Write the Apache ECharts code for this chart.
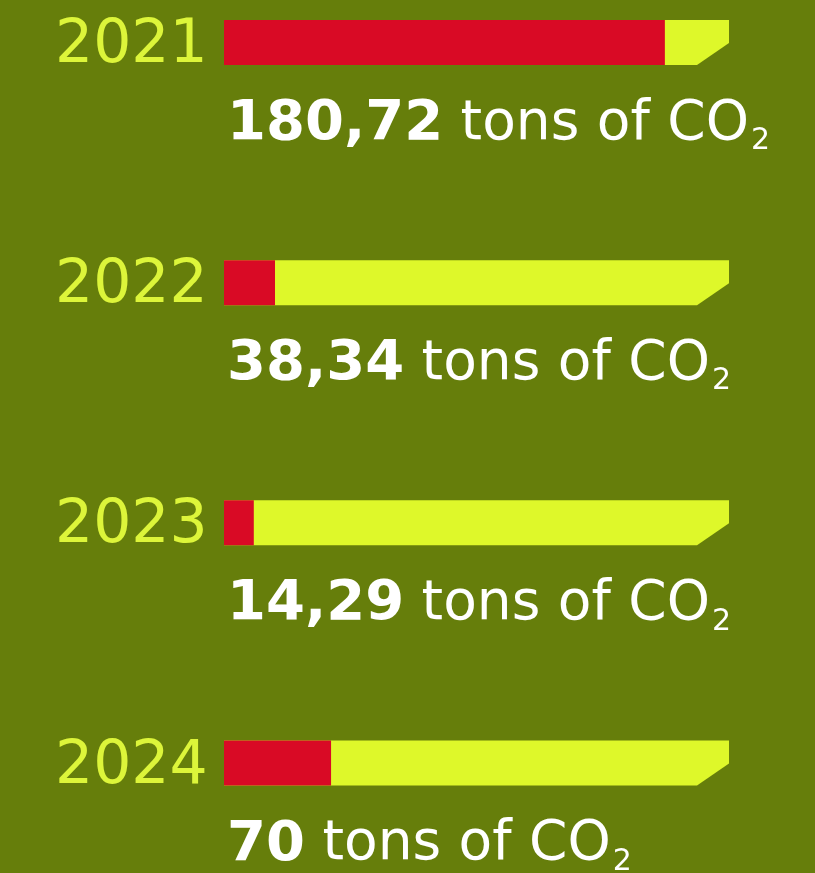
<!DOCTYPE html>
<html>
<head>
<meta charset="utf-8">
<script src="https://cdn.jsdelivr.net/npm/echarts@6/dist/echarts.min.js"></script>
<style>
  html, body { margin: 0; padding: 0; background: #667e0b; }
  #chart { width: 815px; height: 873px; }
</style>
</head>
<body>
<div id="chart"></div>
<script>
// 数据
const years = ["2021", "2022", "2023", "2024"];
const emissions = [180.72, 38.34, 14.29, 70]; // tons of CO2
const fillShare = [87.3, 10.1, 5.9, 21.2]; // red part of each bar, % of bar length

const BG = "#667e0b";
const LIME = "#def82a";
const RED = "#d90a25";

// 180.72 -> "180,72"
const fmt = (v) => String(v).replace(".", ",");

const chart = echarts.init(document.getElementById("chart"));

const option = {
  backgroundColor: BG,
  animation: false,
  grid: { left: 224, right: 86, top: 42.5, bottom: 110 },
  xAxis: { type: "value", min: 0, max: 100, show: false },
  yAxis: {
    type: "category",
    data: years,
    inverse: true,
    boundaryGap: false,
    axisLine: { show: false },
    axisTick: { show: false },
    splitLine: { show: false },
    axisLabel: {
      interval: 0,
      align: "left",
      margin: 169,
      color: "#ddf53a",
      fontSize: 60,
      fontFamily: "DejaVu Sans",
      verticalAlign: "top",
      lineHeight: 8,
    },
  },
  series: [
    {
      type: "custom",
      encode: { x: 0, y: 1 },
      data: years.map((y, i) => [fillShare[i], y, emissions[i]]),
      renderItem: (params, api) => {
        const idx = api.value(1);
        const [x0, yc] = api.coord([0, idx]);
        const x1 = api.coord([100, idx])[0];
        const xf = api.coord([api.value(0), idx])[0];
        const h = 45;
        const top = yc - h / 2;
        const bottom = yc + h / 2;
        return {
          type: "group",
          children: [
            {
              type: "polygon",
              shape: {
                points: [
                  [x0, top],
                  [x1, top],
                  [x1, top + 23],
                  [x1 - 32, bottom],
                  [x0, bottom],
                ],
              },
              style: { fill: LIME },
            },
            {
              type: "rect",
              shape: { x: x0, y: top, width: xf - x0, height: h },
              style: { fill: RED },
            },
            {
              type: "text",
              style: {
                x: x0 + 3,
                y: yc + 82,
                text: `{b|${fmt(emissions[params.dataIndex])}}{r|\u00a0tons of CO}{s|2}`,
                verticalAlign: "middle",
                fill: "#ffffff",
                rich: {
                  b: {
                    fontFamily: "DejaVu Sans",
                    fontWeight: "bold",
                    fontSize: 56,
                    fill: "#ffffff",
                    lineHeight: 64,
                  },
                  r: {
                    fontFamily: "DejaVu Sans",
                    fontSize: 55,
                    fill: "#ffffff",
                    lineHeight: 64,
                  },
                  s: {
                    fontFamily: "DejaVu Sans",
                    fontSize: 30,
                    fill: "#ffffff",
                    lineHeight: 64,
                    verticalAlign: "bottom",
                    padding: [0, 0, 0, 2],
                  },
                },
              },
            },
          ],
        };
      },
    },
  ],
};

chart.setOption(option);
</script>
</body>
</html>
